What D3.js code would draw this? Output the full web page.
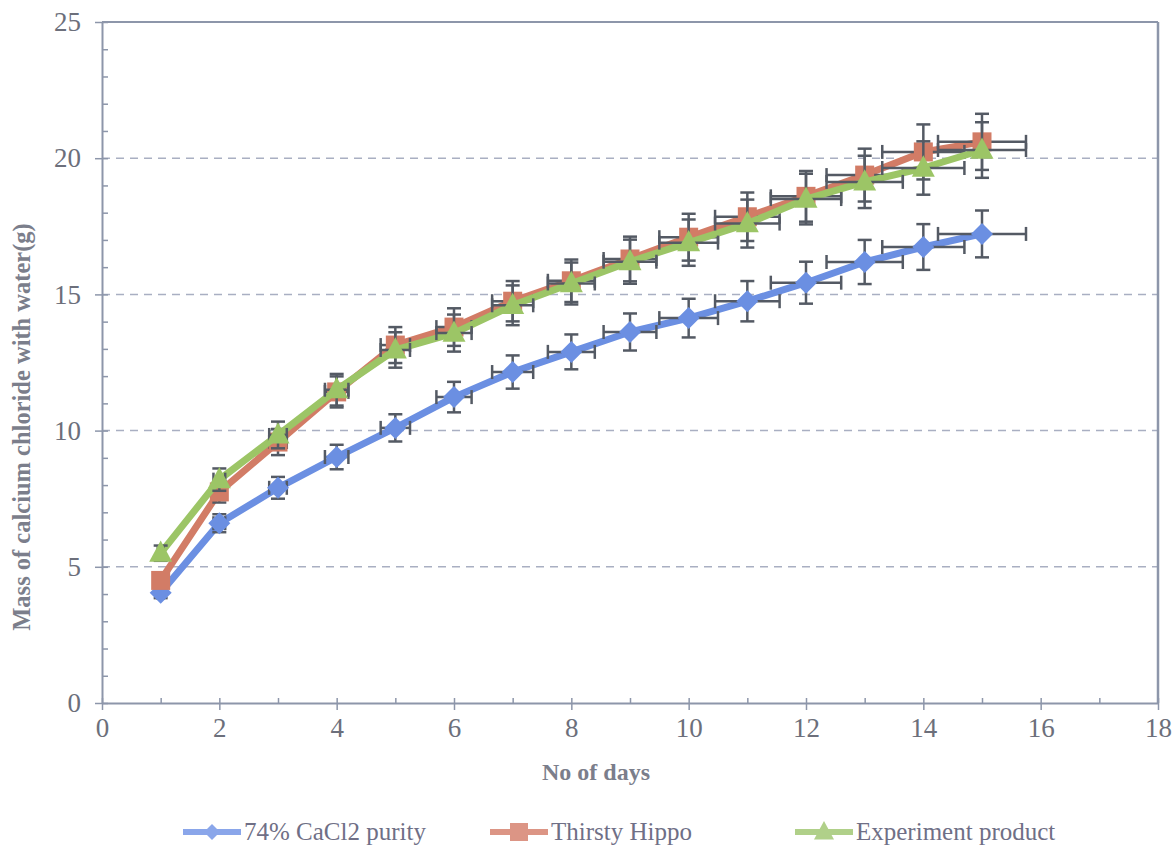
<!DOCTYPE html>
<html>
<head>
<meta charset="utf-8">
<script src="https://cdn.jsdelivr.net/npm/d3@7"></script>
<style>
  body { margin: 0; background: #fff; }
  text { font-family: "Liberation Serif", "Times New Roman", serif; }
</style>
</head>
<body>
<div id="chart"></div>
<script>
// values
const days = [1, 2, 3, 4, 5, 6, 7, 8, 9, 10, 11, 12, 13, 14, 15];
const dayErr = [0.05, 0.1, 0.15, 0.2, 0.25, 0.3, 0.35, 0.4, 0.45, 0.5, 0.55, 0.6, 0.65, 0.7, 0.75];

const purity74 = [4.05, 6.6, 7.9, 9.03, 10.1, 11.23, 12.15, 12.89, 13.62, 14.13, 14.75, 15.43, 16.19, 16.74, 17.22];
const purity74Err = [0.2, 0.33, 0.4, 0.45, 0.5, 0.56, 0.61, 0.64, 0.68, 0.71, 0.74, 0.77, 0.81, 0.84, 0.86];

const thirstyHippo = [4.5, 7.75, 9.58, 11.42, 13.14, 13.8, 14.75, 15.5, 16.3, 17.1, 17.85, 18.6, 19.38, 20.23, 20.6];
const thirstyHippoErr = [0.23, 0.39, 0.48, 0.57, 0.66, 0.69, 0.74, 0.78, 0.82, 0.86, 0.89, 0.93, 0.97, 1.01, 1.03];

const experiment = [5.5, 8.2, 9.84, 11.5, 12.96, 13.58, 14.6, 15.4, 16.2, 16.9, 17.6, 18.5, 19.13, 19.64, 20.3];
const experimentErr = [0.28, 0.41, 0.49, 0.58, 0.65, 0.68, 0.73, 0.77, 0.81, 0.85, 0.88, 0.93, 0.96, 0.98, 1.02];

const xTicks = [0, 2, 4, 6, 8, 10, 12, 14, 16, 18];
const yTicks = [0, 5, 10, 15, 20, 25];

const seriesList = [
    { name: "74% CaCl2 purity", values: purity74, err: purity74Err, color: "#6b8fe2", legendColor: "#8aa6ea", marker: "diamond" },
    { name: "Thirsty Hippo", values: thirstyHippo, err: thirstyHippoErr, color: "#d27c66", legendColor: "#dc9585", marker: "square" },
    { name: "Experiment product", values: experiment, err: experimentErr, color: "#9cc566", legendColor: "#b0d089", marker: "triangle" }
];

const width = 1175, height = 848;
const margin = { top: 22, right: 17, bottom: 145, left: 102 };
const serif = "'Liberation Serif', 'Times New Roman', serif";

const svg = d3.select("#chart").append("svg")
    .attr("width", width)
    .attr("height", height);

const x = d3.scaleLinear().domain([0, 18]).range([margin.left, width - margin.right]);
const y = d3.scaleLinear().domain([0, 25]).range([height - margin.bottom, margin.top]);

const axisColor = "#8d96aa";
const labelColor = "#6c6f7b";

// dashed grid lines
svg.append("g")
    .selectAll("line")
    .data(yTicks.filter(d => d > 0 && d < 25))
    .join("line")
    .attr("x1", x(0)).attr("x2", x(18))
    .attr("y1", d => y(d)).attr("y2", d => y(d))
    .attr("stroke", "#a9afc2")
    .attr("stroke-width", 1.5)
    .attr("stroke-dasharray", "8,6");

// frame (top and right)
svg.append("line")
    .attr("x1", x(0)).attr("x2", x(18)).attr("y1", y(25)).attr("y2", y(25))
    .attr("stroke", axisColor).attr("stroke-width", 2);
svg.append("line")
    .attr("x1", x(18)).attr("x2", x(18)).attr("y1", y(25)).attr("y2", y(0))
    .attr("stroke", axisColor).attr("stroke-width", 2.5);

// minor ticks
svg.append("g")
    .attr("transform", `translate(${x(0)},0)`)
    .call(d3.axisRight(y).ticks(25).tickSize(6).tickFormat(""))
    .call(g => g.select(".domain").remove())
    .selectAll("line").attr("stroke", axisColor).attr("stroke-width", 1.5);
svg.append("g")
    .attr("transform", `translate(0,${y(0)})`)
    .call(d3.axisTop(x).tickValues(d3.range(1, 18, 2)).tickSize(5).tickFormat(""))
    .call(g => g.select(".domain").remove())
    .selectAll("line").attr("stroke", axisColor).attr("stroke-width", 1.5);

// y axis
const yAxis = svg.append("g")
    .attr("transform", `translate(${x(0)},0)`)
    .call(d3.axisLeft(y).tickValues(yTicks).tickSize(7).tickPadding(14).tickSizeOuter(0));
yAxis.select(".domain").attr("stroke", axisColor).attr("stroke-width", 2);
yAxis.selectAll("line").attr("stroke", axisColor).attr("stroke-width", 1.5);
yAxis.selectAll("text")
    .attr("fill", labelColor)
    .style("font-size", "27px")
    .style("font-family", serif);

// x axis
const xAxis = svg.append("g")
    .attr("transform", `translate(0,${y(0)})`)
    .call(d3.axisBottom(x).tickValues(xTicks).tickSize(7).tickPadding(8).tickSizeOuter(0));
xAxis.select(".domain").attr("stroke", axisColor).attr("stroke-width", 2);
xAxis.selectAll("line").attr("stroke", axisColor).attr("stroke-width", 1.5).attr("y1", -5);
xAxis.selectAll("text")
    .attr("fill", labelColor)
    .style("font-size", "27px")
    .style("font-family", serif);

// axis titles
svg.append("text")
    .attr("x", 596).attr("y", 780)
    .attr("text-anchor", "middle")
    .attr("fill", "#7b7e8b")
    .style("font-size", "24px")
    .style("font-weight", "bold")
    .style("font-family", serif)
    .text("No of days");

svg.append("text")
    .attr("transform", "translate(30,427) rotate(-90)")
    .attr("text-anchor", "middle")
    .attr("fill", "#7b7e8b")
    .style("font-size", "24.5px")
    .style("font-weight", "bold")
    .style("font-family", serif)
    .text("Mass of calcium chloride with water(g)");

// marker shapes (Excel-like)
function markerPath(kind, s) {
    if (kind === "diamond") return `M0,${-s}L${s},0L0,${s}L${-s},0Z`;
    if (kind === "square") return `M${-s},${-s}H${s}V${s}H${-s}Z`;
    return `M0,${-s * 1.1}L${s},${s * 0.75}L${-s},${s * 0.75}Z`;
}
const markerSize = { diamond: 11, square: 9.5, triangle: 11.5 };
const legendMarkerSize = { diamond: 8, square: 9, triangle: 10 };

const line = d3.line()
    .x(d => x(d.day))
    .y(d => y(d.value));

const dataFor = s => days.map((d, i) => ({ day: d, value: s.values[i], err: s.err[i], xerr: dayErr[i] }));

seriesList.forEach(s => {
    const pts = dataFor(s);

    // series line
    svg.append("path")
        .datum(pts)
        .attr("fill", "none")
        .attr("stroke", s.color)
        .attr("stroke-width", 7)
        .attr("stroke-linejoin", "round")
        .attr("d", line);

    // error bars (vertical + horizontal)
    const eb = svg.append("g")
        .attr("stroke", "#545a64")
        .attr("stroke-width", 2.5)
        .selectAll("g")
        .data(pts)
        .join("g");
    eb.append("line")
        .attr("x1", d => x(d.day)).attr("x2", d => x(d.day))
        .attr("y1", d => y(d.value - d.err)).attr("y2", d => y(d.value + d.err));
    eb.append("line")
        .attr("x1", d => x(d.day) - 7).attr("x2", d => x(d.day) + 7)
        .attr("y1", d => y(d.value + d.err)).attr("y2", d => y(d.value + d.err));
    eb.append("line")
        .attr("x1", d => x(d.day) - 7).attr("x2", d => x(d.day) + 7)
        .attr("y1", d => y(d.value - d.err)).attr("y2", d => y(d.value - d.err));
    eb.append("line")
        .attr("x1", d => x(d.day - d.xerr)).attr("x2", d => x(d.day + d.xerr))
        .attr("y1", d => y(d.value)).attr("y2", d => y(d.value));
    eb.append("line")
        .attr("x1", d => x(d.day - d.xerr)).attr("x2", d => x(d.day - d.xerr))
        .attr("y1", d => y(d.value) - 7).attr("y2", d => y(d.value) + 7);
    eb.append("line")
        .attr("x1", d => x(d.day + d.xerr)).attr("x2", d => x(d.day + d.xerr))
        .attr("y1", d => y(d.value) - 7).attr("y2", d => y(d.value) + 7);

    // markers
    svg.append("g")
        .selectAll("path")
        .data(pts)
        .join("path")
        .attr("transform", d => `translate(${x(d.day)},${y(d.value)})`)
        .attr("d", markerPath(s.marker, markerSize[s.marker]))
        .attr("fill", s.color);
});

// legend
const legendX = [183, 490, 795];
const legend = svg.append("g")
    .selectAll("g")
    .data(seriesList)
    .join("g")
    .attr("transform", (d, i) => `translate(${legendX[i]},832)`);
legend.append("line")
    .attr("x1", 0).attr("x2", 58)
    .attr("stroke", d => d.legendColor)
    .attr("stroke-width", 6);
legend.append("path")
    .attr("transform", "translate(29,0)")
    .attr("d", d => markerPath(d.marker, legendMarkerSize[d.marker]))
    .attr("fill", d => d.legendColor);
legend.append("text")
    .attr("x", 61).attr("y", 8)
    .attr("fill", "#6f6f86")
    .style("font-size", "25px")
    .style("font-family", serif)
    .text(d => d.name);
</script>
</body>
</html>
